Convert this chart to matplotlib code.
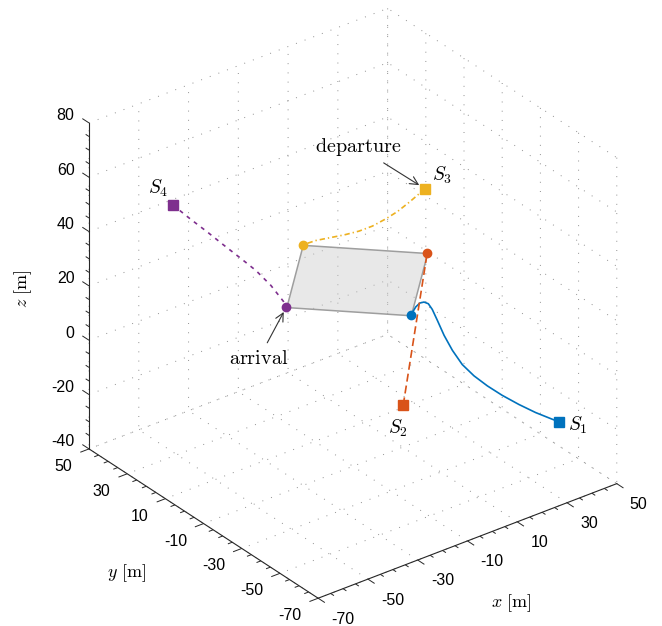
import numpy as np
import matplotlib
matplotlib.use("Agg")
import matplotlib.pyplot as plt
from mpl_toolkits.mplot3d import proj3d
from mpl_toolkits.mplot3d.art3d import Poly3DCollection, Line3DCollection

plt.rcParams['font.family'] = ['Liberation Sans', 'DejaVu Sans']
plt.rcParams['mathtext.fontset'] = 'cm'
plt.rcParams['grid.linestyle'] = (0, (1, 8.5))
plt.rcParams['grid.color'] = '#8f8f8f'
plt.rcParams['grid.linewidth'] = 0.7

# Colores estilo MATLAB
c_blue, c_red, c_yel, c_pur = '#0072BD', '#D95319', '#EDB120', '#7E2F8E'
c_ax = '#262626'

# Plataforma de aterrizaje (esquinas: rojo, azul, morado, amarillo)
pad_x = [28.3, 0.0, -28.3, 0.0]
pad_y = [1.0, -27.3, 1.0, 29.3]
pad_z = [20.0, 20.0, 20.0, 20.0]

# Trayectorias (salida S_i -> llegada en la plataforma)
p1_x = [38.3, 36.0, 30.7, 25.4, 20.5, 16.2, 12.5, 9.7, 8.5, 8.0, 7.9, 7.7, 6.8, 5.3, 4.4, 2.9, 0.0]
p1_y = [-54.9, -54.4, -52.6, -50.8, -48.4, -46.3, -44.1, -41.6, -38.0, -34.3, -30.9, -28.5,
        -27.6, -27.3, -26.3, -26.1, -27.3]
p1_z = [-20, -18.5, -15, -11, -7, -3, 1, 5, 9, 13, 17, 20, 22, 23, 22.5, 21.5, 20]

p2_x = [5.3, 28.3]
p2_y = [-16.4, 1.0]
p2_z = [-20, 20]

p3_x = [31.6, 29.7, 26.6, 22.6, 19.5, 15.4, 12.2, 9.1, 5.7, 2.9, 0.0]
p3_y = [6.4, 7.1, 8.2, 9.2, 11.2, 12.9, 15.7, 19.4, 22.9, 26.2, 29.3]
p3_z = [40, 38.5, 36, 33.5, 31, 29, 27, 25, 23.5, 22, 20]

p4_x = [-49.0, -46.9, -43.4, -40.1, -36.7, -33.4, -31.2, -30.0, -28.3]
p4_y = [33.5, 26.7, 22.6, 18.6, 14.3, 10.3, 5.3, 0.3, 1.0]
p4_z = [50, 47, 43, 39, 35, 31, 27, 23, 20]

# Ejes
x_lim, y_lim, z_lim = (-70, 50), (-70, 50), (-40, 80)
x_ticks = np.arange(-70, 51, 20)
y_ticks = np.arange(-70, 51, 20)
z_ticks = np.arange(-40, 81, 20)
x_minor = [v for v in np.arange(-70, 51, 5) if v not in x_ticks]
y_minor = [v for v in np.arange(-70, 51, 5) if v not in y_ticks]
z_minor = [v for v in np.arange(-40, 81, 5) if v not in z_ticks]

paths = [(p1_x, p1_y, p1_z, c_blue, '-', None, r'$S_1$', (13.9, -2.4)),
         (p2_x, p2_y, p2_z, c_red, '--', (4.8, 2.4), r'$S_2$', (-4.1, -16.8)),
         (p3_x, p3_y, p3_z, c_yel, '-.', (3.2, 1.8, 0.8, 1.8), r'$S_3$', (12, 9.6)),
         (p4_x, p4_y, p4_z, c_pur, ':', (2.4, 3.0), r'$S_4$', (-10.8, 12))]

fig = plt.figure(figsize=(6.62, 6.26), dpi=100)
ax = fig.add_axes([0.0203, 0.002, 1.0, 1.0], projection='3d', proj_type='ortho',
                  computed_zorder=False)
ax.view_init(elev=30, azim=-127.5)
ax.set_box_aspect((1, 1, 1), zoom=1.011)

ax.set_xlim(*x_lim)
ax.set_ylim(*y_lim)
ax.set_zlim(*z_lim)
ax.set_xticks(x_ticks)
ax.set_yticks(y_ticks)
ax.set_zticks(z_ticks)
ax.set_xticklabels([])
ax.set_yticklabels([])
ax.set_zticklabels([])

for axis in (ax.xaxis, ax.yaxis, ax.zaxis):
    axis.set_pane_color((1, 1, 1, 0))
    axis.pane.set_edgecolor((1, 1, 1, 0))
    axis.line.set_color(c_ax)
    axis.line.set_linewidth(0.8)
    axis._axinfo['tick']['inward_factor'] = 0.0
    axis._axinfo['tick']['outward_factor'] = 0.0

# Marcas de los ejes (hacia afuera, estilo MATLAB)
big, small = 3.5, 1.75
segs = []
for v in x_ticks:
    segs.append([(v, y_lim[0], z_lim[0]), (v, y_lim[0] - big, z_lim[0])])
for v in x_minor:
    segs.append([(v, y_lim[0], z_lim[0]), (v, y_lim[0] - small, z_lim[0])])
for v in y_ticks:
    segs.append([(x_lim[0], v, z_lim[0]), (x_lim[0] - big, v, z_lim[0])])
for v in y_minor:
    segs.append([(x_lim[0], v, z_lim[0]), (x_lim[0] - small, v, z_lim[0])])
for v in z_ticks:
    segs.append([(x_lim[0], y_lim[1], v), (x_lim[0], y_lim[1] + big, v)])
for v in z_minor:
    segs.append([(x_lim[0], y_lim[1], v), (x_lim[0], y_lim[1] + small, v)])
ax.add_collection3d(Line3DCollection(segs, colors=c_ax, linewidths=0.7, zorder=0))

# Plataforma (semitransparente)
verts = [list(zip(pad_x, pad_y, pad_z))]
ax.add_collection3d(Poly3DCollection(verts, facecolor=(0.8, 0.8, 0.8, 0.45),
                                     edgecolor=(0.62, 0.62, 0.62), linewidth=1.1,
                                     zorder=1))

for px, py, pz, col, ls, dash, lab, off in paths:
    line, = ax.plot(px, py, pz, ls, color=col, linewidth=1.2, zorder=2)
    if dash is not None:
        line.set_dashes(dash)
    ax.plot([px[0]], [py[0]], [pz[0]], 's', color=col, markersize=7, zorder=3)
    ax.plot([px[-1]], [py[-1]], [pz[-1]], 'o', color=col, markersize=6, zorder=3)

M = ax.get_proj()


def p2d(x, y, z):
    u, v, _ = proj3d.proj_transform(x, y, z, M)
    return u, v


# Etiquetas de las marcas
for v in x_ticks:
    ax.annotate(str(v), xy=p2d(v, y_lim[0], z_lim[0]), xytext=(9.4, -15.1),
                textcoords='offset points', ha='left', va='center',
                fontsize=11.5, color='k')
for v in y_ticks:
    ax.annotate(str(v), xy=p2d(x_lim[0], v, z_lim[0]), xytext=(-11.9, -12.6),
                textcoords='offset points', ha='right', va='center',
                fontsize=11.5, color='k')
for v in z_ticks:
    ax.annotate(str(v), xy=p2d(x_lim[0], y_lim[1], v), xytext=(-10.4, 5),
                textcoords='offset points', ha='right', va='center',
                fontsize=11.5, color='k')

for px, py, pz, col, ls, dash, lab, off in paths:
    ax.annotate(lab, xy=p2d(px[0], py[0], pz[0]), xytext=off,
                textcoords='offset points', ha='center', va='center', fontsize=14)

ax.annotate(r'$\mathrm{departure}$', xy=p2d(p3_x[0], p3_y[0], p3_z[0]),
            xytext=(-48.2, 30.2), textcoords='offset points', ha='center',
            va='center', fontsize=14.5,
            arrowprops=dict(arrowstyle='->', color='#333333', lw=0.8,
                            shrinkA=3, shrinkB=5))
ax.annotate(r'$\mathrm{arrival}$', xy=p2d(p4_x[-1], p4_y[-1], p4_z[-1]),
            xytext=(-19.9, -37.2), textcoords='offset points', ha='center',
            va='center', fontsize=14.5,
            arrowprops=dict(arrowstyle='->', color='#333333', lw=0.8,
                            shrinkA=3, shrinkB=4))

# Nombres de los ejes
W, H = 662.0, 626.0
fig.text(23.3 / W, 1 - 288.3 / H, r'$z\ [\mathrm{m}]$', rotation=90,
         ha='center', va='center', fontsize=13)
fig.text(126.7 / W, 1 - 573.3 / H, r'$y\ [\mathrm{m}]$', ha='center',
         va='center', fontsize=13)
fig.text(511.7 / W, 1 - 603.3 / H, r'$x\ [\mathrm{m}]$', ha='center',
         va='center', fontsize=13)

fig.savefig('out.png', dpi=100)
